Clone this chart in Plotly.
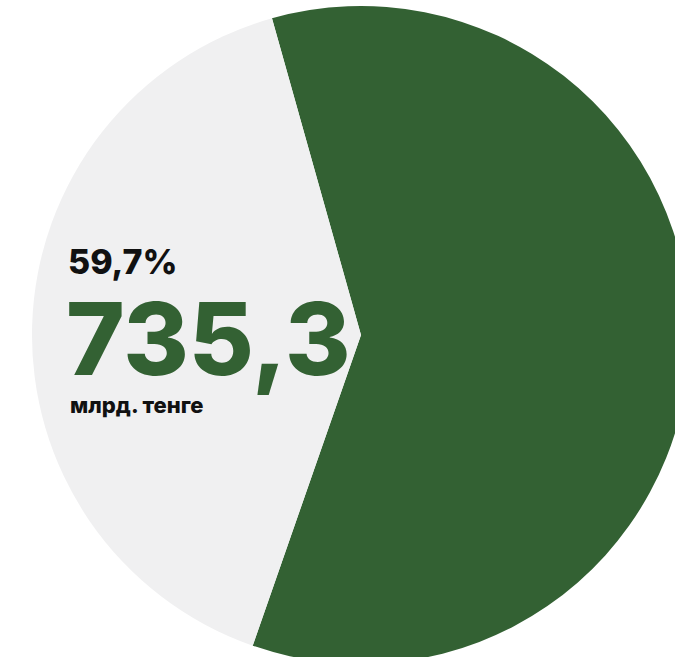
import plotly.graph_objects as go

# Share of the total (percent), highlighted slice first
shares = [59.7, 40.3]
slice_names = ["735,3 млрд. тенге", "остальное"]
slice_colors = ["#336133", "#f0f0f1"]

share_label = "59,7%"
amount_label = "735,3"
unit_label = "млрд. тенге"

W, H = 722, 670

fig = go.Figure(
    go.Pie(
        values=shares,
        labels=slice_names,
        sort=False,
        direction="clockwise",
        rotation=-15.7,
        marker=dict(colors=slice_colors, line=dict(width=0)),
        textinfo="none",
        hoverinfo="skip",
        showlegend=False,
        domain=dict(x=[0, 1], y=[1 - 664 / H, 1 - 6 / H]),
    )
)

FONT = "Inter, 'Open Sans', sans-serif"


def px(x, y):
    return x / W, 1 - y / H


annos = [
    (share_label, 66, 262, 34, "#111111"),
    (amount_label, 64, 338, 100, "#336133"),
    (unit_label, 68, 405, 22, "#111111"),
]
for text, x, y, size, color in annos:
    ax, ay = px(x, y)
    fig.add_annotation(
        x=ax, y=ay, xref="paper", yref="paper",
        text=text, showarrow=False,
        xanchor="left", yanchor="middle",
        font=dict(family=FONT, size=size, color=color, weight=800),
    )

fig.update_layout(
    width=W, height=H,
    margin=dict(l=0, r=0, t=0, b=0),
    paper_bgcolor="white",
    plot_bgcolor="white",
)

fig.write_html(
    "out.html",
    config={"displayModeBar": False},
    post_script="document.body.style.margin='0';document.body.style.overflow='hidden';",
)
